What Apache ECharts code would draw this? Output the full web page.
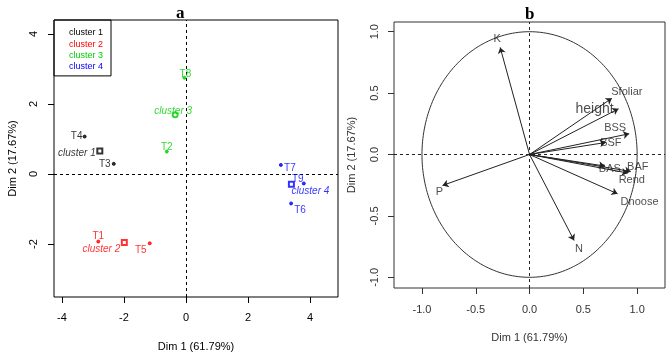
<!DOCTYPE html>
<html>
<head>
<meta charset="utf-8">
<script src="https://cdn.jsdelivr.net/npm/echarts@6/dist/echarts.min.js"></script>
<style>html,body{margin:0;padding:0;background:#fff}#c{width:672px;height:355px}</style>
</head>
<body>
<div id="c"></div>
<script>
// ---- data ----
const indNames   = ['T1','T2','T3','T4','T5','T6','T7','T8','T9'];
const indDim1    = [-2.83,-0.62,-2.33,-3.27,-1.17,3.39,3.06,-0.05,3.80];
const indDim2    = [-1.93,0.64,0.29,1.07,-1.98,-0.84,0.26,2.75,-0.27];
const indCluster = [2,3,1,1,2,4,4,3,4];
const clusterNames = ['cluster 1','cluster 2','cluster 3','cluster 4'];
const centDim1   = [-2.78,-1.99,-0.35,3.40];
const centDim2   = [0.66,-1.96,1.69,-0.29];
const varNames   = ['K','Sfoliar','height','BSS','BSF','BAS','BAF','Rend','Dnoose','N','P'];
const varDim1    = [-0.273,0.765,0.827,0.926,0.709,0.700,0.941,0.913,0.818,0.414,-0.809];
const varDim2    = [0.872,0.458,0.372,0.169,0.098,-0.094,-0.138,-0.151,-0.320,-0.700,-0.252];
const leftXTicks = [-4,-2,0,2,4];
const leftYTicks = [-2,0,2,4];
const rightTicks = [-1,-0.5,0,0.5,1];
const circleRadius = [1];

// ---- styling (not data) ----
const FONT = 'Liberation Sans, Arial, sans-serif';
const clusterColors = ['#000000','#ff0000','#00d000','#0000ff'];
const indLabelOffset = {T1:[0,-5],T2:[0,-4],T3:[-9,0],T4:[-8,0],T5:[-9,7],T6:[9,7],T7:[9,3],T8:[1,-4],T9:[-6,-4]};
const centLabelOffset = [[-23,2],[-23,7],[-2,-4],[19,7]];
const centSymbol = ['emptyRect','emptyRect','emptyCircle','emptyRect'];
const varLabelOffset = {K:[-3,-8],Sfoliar:[15,-6],height:[-24,0],BSS:[-14,-6],BSF:[5,0],BAS:[5,3],BAF:[7,-4],Rend:[4,7],Dnoose:[22,8],N:[5,8],P:[-3,7]};

const chart = echarts.init(document.getElementById('c'), null, {renderer:'canvas'});

function axisCommon(ticks, color, fmt, isY, margin) {
  return {
    axisLine: {show:false, onZero:false},
    splitLine: {show:false},
    axisTick: {show:true, customValues: ticks, length: 6, lineStyle:{color: color, width:1}},
    axisLabel: {show:true, customValues: ticks, color: color, fontSize: 11, fontFamily: FONT,
      margin: margin, rotate: isY ? 90 : 0, formatter: fmt}
  };
}

const clusterSeries = clusterNames.map((cn, ci) => {
  const data = [];
  indNames.forEach((n, i) => {
    if (indCluster[i] === ci + 1) {
      data.push({value:[indDim1[i], indDim2[i]], name:n, symbol:'circle', symbolSize:3,
        label:{offset: indLabelOffset[n]}});
    }
  });
  data.push({value:[centDim1[ci], centDim2[ci]], name:cn, symbol:centSymbol[ci], symbolSize:5,
    label:{offset: centLabelOffset[ci], fontStyle:'italic'}});
  const s = {
    name: cn, type:'scatter', xAxisIndex:0, yAxisIndex:0, data: data,
    itemStyle:{color: clusterColors[ci], borderColor: clusterColors[ci], borderWidth:1},
    label:{show:true, position:'inside', formatter: p => p.name, color: clusterColors[ci],
      fontSize:10, fontFamily: FONT},
    emphasis:{disabled:true}, silent:true, z:5
  };
  if (ci === 0) {
    s.markLine = {silent:true, symbol:'none', label:{show:false},
      lineStyle:{color:'#000', type:[3,3], width:1},
      data:[{xAxis:0},{yAxis:0}]};
  }
  return s;
});

const option = {
  animation:false,
  backgroundColor:'#fff',
  title:[
    {text:'a', left:176, top:5, padding:0, textStyle:{fontFamily:'Liberation Serif, serif', fontWeight:'bold', fontSize:17, color:'#000'}},
    {text:'b', left:525, top:6, padding:0, textStyle:{fontFamily:'Liberation Serif, serif', fontWeight:'bold', fontSize:17, color:'#000'}}
  ],
  legend:{
    left:54, top:20, orient:'vertical', padding:[8,8,4,10], itemWidth:0, itemHeight:10, itemGap:1.3,
    borderColor:'#000', borderWidth:1, icon:'rect', selectedMode:false,
    itemStyle:{opacity:0, borderWidth:0},
    textStyle:{fontSize:9, fontFamily:FONT},
    data: clusterNames.map((n,i)=>({name:n, textStyle:{color:clusterColors[i]}}))
  },
  grid:[
    {left:54, top:20, width:284, height:277, show:true, borderColor:'#000', borderWidth:1, backgroundColor:'transparent', containLabel:false, outerBoundsMode:'none'},
    {left:394, top:22, width:271, height:266, show:true, borderColor:'#333', borderWidth:1, backgroundColor:'transparent', containLabel:false, outerBoundsMode:'none'}
  ],
  xAxis:[
    Object.assign({type:'value', gridIndex:0, min:-4.258, max:4.903,
      name:'Dim 1 (61.79%)', nameLocation:'middle', nameGap:44,
      nameTextStyle:{fontSize:11, fontFamily:FONT, color:'#000'}},
      axisCommon(leftXTicks, '#000', v => String(v), false, 15)),
    Object.assign({type:'value', gridIndex:1, min:-1.26, max:1.259,
      name:'Dim 1 (61.79%)', nameLocation:'middle', nameGap:44,
      nameTextStyle:{fontSize:11, fontFamily:FONT, color:'#333'}},
      axisCommon(rightTicks, '#333', v => v.toFixed(1), false, 16))
  ],
  yAxis:[
    Object.assign({type:'value', gridIndex:0, min:-3.514, max:4.40,
      name:'Dim 2 (17.67%)', nameLocation:'middle', nameGap:36,
      nameTextStyle:{fontSize:11, fontFamily:FONT, color:'#000'}},
      axisCommon(leftYTicks, '#000', v => String(v), true, 15)),
    Object.assign({type:'value', gridIndex:1, min:-1.087, max:1.079,
      name:'Dim 2 (17.67%)', nameLocation:'middle', nameGap:37,
      nameTextStyle:{fontSize:11, fontFamily:FONT, color:'#333'}},
      axisCommon(rightTicks, '#333', v => v.toFixed(1), true, 14))
  ],
  series: clusterSeries.concat([
    {
      type:'custom', xAxisIndex:1, yAxisIndex:1, silent:true,
      data: circleRadius.map(r => [0, 0, r]),
      encode:{x:0, y:1},
      renderItem: function(params, api) {
        const r = api.value(2);
        const pts = [];
        for (let i = 0; i <= 240; i++) {
          const t = i / 240 * 2 * Math.PI;
          pts.push(api.coord([r * Math.cos(t), r * Math.sin(t)]));
        }
        return {type:'polyline', shape:{points:pts}, style:{stroke:'#333', fill:null, lineWidth:1}};
      },
      markLine:{silent:true, symbol:'none', label:{show:false},
        lineStyle:{color:'#222', type:[3,3], width:1},
        data:[{xAxis:0},{yAxis:0}]}
    },
    {
      type:'lines', coordinateSystem:'cartesian2d', xAxisIndex:1, yAxisIndex:1, silent:true,
      symbol:['none','arrow'], symbolSize:6,
      lineStyle:{color:'#222', width:1, opacity:1},
      data: varNames.map((n,i)=>({name:n, coords:[[0,0],[varDim1[i], varDim2[i]]]})),
      z:4
    },
    {
      type:'scatter', xAxisIndex:1, yAxisIndex:1, silent:true, symbolSize:0,
      data: varNames.map((n,i)=>({name:n, value:[varDim1[i], varDim2[i]],
        label:{offset: varLabelOffset[n], fontSize: n === 'height' ? 14 : 11}})),
      label:{show:true, position:'inside', formatter:p=>p.name, color:'#222', fontFamily:FONT},
      z:6
    }
  ])
};
chart.setOption(option);
</script>
</body>
</html>
